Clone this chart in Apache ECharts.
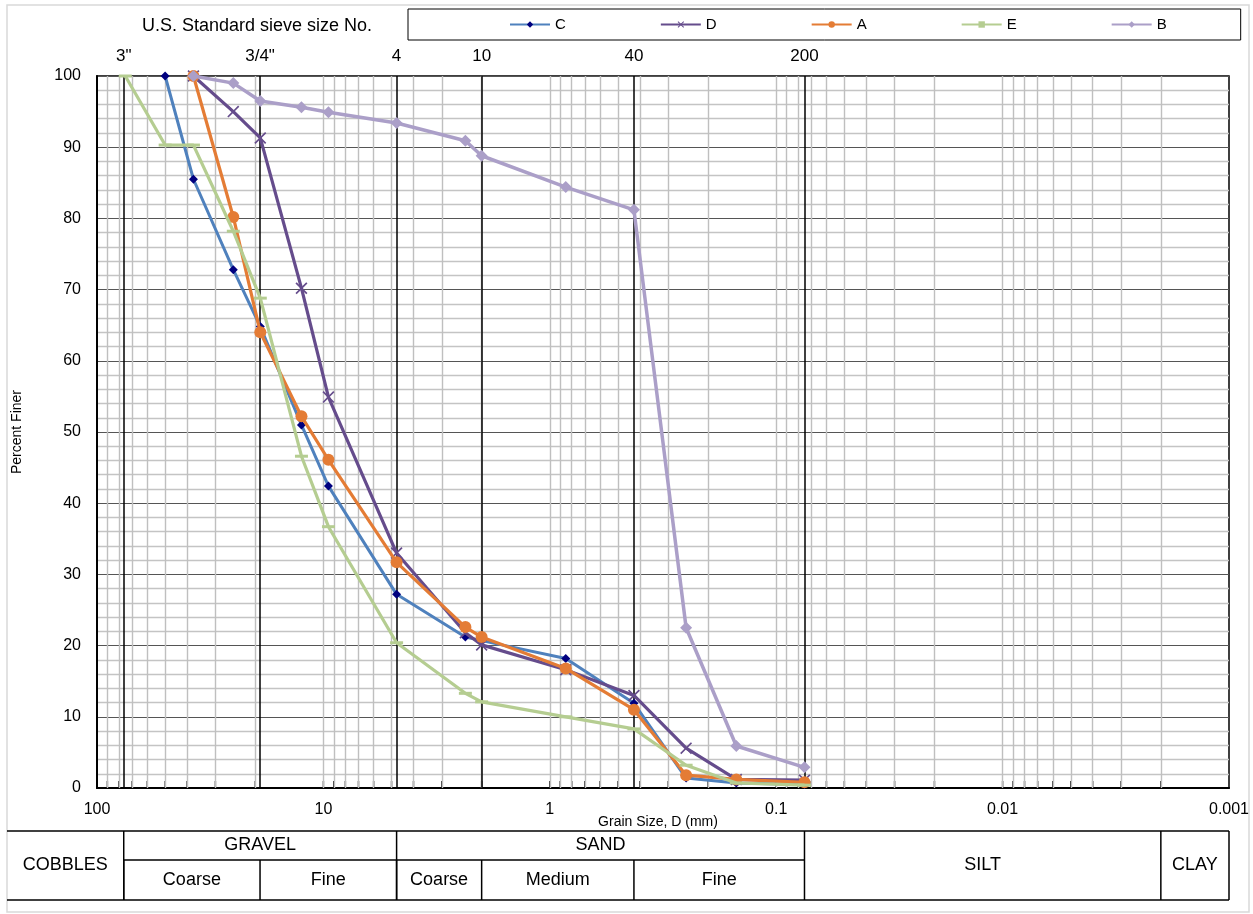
<!DOCTYPE html>
<html><head><meta charset="utf-8">
<script src="https://cdn.jsdelivr.net/npm/echarts@6/dist/echarts.min.js"></script>
<style>html,body{margin:0;padding:0;background:#fff}#c{width:1253px;height:914px}</style>
</head><body><div id="c"></div>
<script>
// ---------- data ----------
const sieveMm = [75, 50, 37.5, 25, 19, 12.5, 9.5, 4.75, 2.36, 2.0, 0.85, 0.425, 0.25, 0.15, 0.075];
const seriesNames = ['C', 'D', 'A', 'E', 'B'];
const pctC = [null, 100, 85.5, 72.8, 64.8, 51.0, 42.4, 27.2, 21.2, 20.7, 18.2, 11.9, 1.4, 0.7, 0.5];
const pctD = [null, null, 100, 95.0, 91.3, 70.2, 54.9, 33.0, 21.8, 20.1, 16.6, 13.0, 5.6, 1.2, 1.1];
const pctA = [null, null, 100, 80.2, 64.0, 52.2, 46.1, 31.7, 22.6, 21.2, 16.8, 11.0, 1.8, 1.2, 0.8];
const pctE = [100, 90.3, 90.3, 78.2, 68.8, 46.6, 36.7, 20.4, 13.3, 12.1, 10.0, 8.3, 3.2, 0.7, 0.4];
const pctB = [null, null, 100, 99.0, 96.5, 95.6, 94.9, 93.4, 90.9, 88.8, 84.4, 81.2, 22.5, 5.9, 2.9];

const sieveLineSizes = [76.2, 19.05, 4.75, 2.0, 0.425, 0.075];
const sieveLineLabels = ['3"', '3/4"', '4', '10', '40', '200'];
const xTickValues = [100, 10, 1, 0.1, 0.01, 0.001];
const xTickLabels = ['100', '10', '1', '0.1', '0.01', '0.001'];

const majorClasses = ['COBBLES', 'GRAVEL', 'SAND', 'SILT', 'CLAY'];
const majorBounds = [[null, 76.2], [76.2, 4.75], [4.75, 0.075], [0.075, 0.002], [0.002, 0.001]];
const subClasses = ['Coarse', 'Fine', 'Coarse', 'Medium', 'Fine'];
const subBounds = [[76.2, 19.05], [19.05, 4.75], [4.75, 2.0], [2.0, 0.425], [0.425, 0.075]];

// ---------- styles ----------
const FONT = '"Liberation Sans", Arial, sans-serif';
const styles = {
  C: { line: '#4f81bd', mark: '#00007f', symbol: 'diamond', size: 9, width: 3 },
  D: { line: '#654c8c', mark: '#654c8c', symbol: 'path://M0,1L1,0L5,4L9,0L10,1L6,5L10,9L9,10L5,6L1,10L0,9L4,5Z', size: 12, width: 3.2 },
  A: { line: '#e47c35', mark: '#e47c35', symbol: 'circle', size: 12, width: 3.2 },
  E: { line: '#b5cd91', mark: '#b5cd91', symbol: 'rect', size: [13, 3], width: 3.2 },
  B: { line: '#ab9fc8', mark: '#ab9fc8', symbol: 'diamond', size: 12, width: 3.5 }
};
const pctBySeries = { C: pctC, D: pctD, A: pctA, E: pctE, B: pctB };

// log grid positions (axis decoration)
const gridVals = [];
for (let n = -3; n <= 1; n++) {
  for (let k = 1; k <= 9; k++) {
    const v = Number((k * Math.pow(10, n)).toPrecision(6));
    if (v > 0.001 && v < 100) gridVals.push(v);
  }
}

const chart = echarts.init(document.getElementById('c'), null, { renderer: 'canvas' });

const dataSeries = seriesNames.map((name, idx) => {
  const st = styles[name];
  const pct = pctBySeries[name];
  return {
    name: name,
    type: 'line',
    z: 5 + idx,
    data: sieveMm.map((s, i) => [s, pct[i]]).filter(p => p[1] !== null),
    symbol: st.symbol,
    symbolSize: st.size,
    showSymbol: true,
    lineStyle: { color: st.line, width: st.width },
    itemStyle: { color: st.mark },
    emphasis: { disabled: true },
    clip: false
  };
});

const option = {
  animation: false,
  backgroundColor: '#fff',
  textStyle: { fontFamily: FONT },
  title: {
    text: 'U.S. Standard sieve size No.',
    left: 142, top: 17, padding: 0,
    textStyle: { fontSize: 18, fontWeight: 'normal', color: '#000', fontFamily: FONT }
  },
  legend: {
    data: seriesNames,
    left: 408, top: 9,
    orient: 'horizontal',
    itemWidth: 40, itemHeight: 8, itemGap: 94,
    padding: [8, 74, 8, 101],
    borderColor: '#000', borderWidth: 1,
    textStyle: { fontSize: 15, color: '#000', fontFamily: '"Liberation Sans Narrow", "Liberation Sans", Arial, sans-serif' }
  },
  grid: {
    left: 97, right: 24, top: 76, bottom: 126,
    show: true, borderColor: '#000', borderWidth: 1.5, backgroundColor: 'transparent'
  },
  xAxis: {
    type: 'log', logBase: 10, min: 0.001, max: 100, inverse: true,
    axisLine: { show: true, onZero: false, lineStyle: { color: '#000', width: 2 } },
    axisTick: { show: false },
    splitLine: { show: false },
    axisLabel: {
      fontSize: 16, color: '#000', margin: 14, fontFamily: FONT,
      formatter: function (v) {
        let best = 0, bd = Infinity;
        xTickValues.forEach((t, i) => { const d = Math.abs(Math.log10(t) - Math.log10(v)); if (d < bd) { bd = d; best = i; } });
        return bd < 1e-6 ? xTickLabels[best] : '';
      }
    },
    name: 'Grain Size, D (mm)', nameLocation: 'middle', nameGap: 27, nameMoveOverlap: false,
    nameTextStyle: { fontSize: 14, color: '#000', fontFamily: FONT, padding: [0, 10, 0, 0] }
  },
  yAxis: {
    type: 'value', min: 0, max: 100, interval: 10,
    axisLine: { show: true, lineStyle: { color: '#000', width: 2 } },
    axisTick: { show: false },
    axisLabel: { fontSize: 16, color: '#000', margin: 16, fontFamily: FONT },
    splitLine: { show: true, lineStyle: { color: '#555', width: 1 } },
    minorTick: { show: false, splitNumber: 5 },
    minorSplitLine: { show: true, lineStyle: { color: '#c4c4c4', width: 1.3 } },
    name: 'Percent Finer', nameLocation: 'middle', nameGap: 73, nameMoveOverlap: false,
    nameTextStyle: { fontSize: 14, color: '#000', fontFamily: FONT }
  },
  series: [
    {
      name: 'ticks', type: 'scatter', z: 3, silent: true,
      data: gridVals.map(v => [v, 0]),
      symbol: 'rect', symbolSize: [1.5, 7], symbolOffset: [0, -3.5],
      itemStyle: { color: '#000' },
      markLine: {
        silent: true, symbol: ['none', 'none'], animation: false, precision: 10,
        label: { show: false },
        lineStyle: { color: '#bfbfbf', width: 1.4, type: 'solid' },
        emphasis: { disabled: true },
        data: gridVals.map(v => ({ xAxis: v }))
      }
    },
    {
      name: 'sieves', type: 'scatter', z: 4, silent: true,
      data: sieveLineSizes.map(v => [v, 0]),
      symbol: 'none', symbolSize: 0,
      markLine: {
        silent: true, symbol: ['none', 'none'], animation: false, precision: 10,
        lineStyle: { color: '#000', width: 1.5, type: 'solid' },
        emphasis: { disabled: true },
        label: {
          show: true, position: 'end', distance: 11,
          formatter: p => p.name,
          fontSize: 17, color: '#000', fontFamily: FONT
        },
        data: sieveLineSizes.map((v, i) => ({ xAxis: v, name: sieveLineLabels[i] }))
      }
    }
  ].concat(dataSeries)
};

chart.setOption(option);

// ---------- classification table below the axis ----------
function px(v) { return chart.convertToPixel({ xAxisIndex: 0 }, v); }
const tTop = 831, tMid = 860, tBot = 900, tLeft = 7;
const g = [];
const L = (x1, y1, x2, y2) => g.push({ type: 'line', silent: true, shape: { x1, y1, x2, y2 }, style: { stroke: '#000', lineWidth: 1.5 } });
const T = (text, x, y) => g.push({ type: 'text', silent: true, style: { text, x, y, align: 'center', verticalAlign: 'middle', font: '18px ' + FONT, fill: '#000' } });

g.push({ type: 'rect', silent: true, shape: { x: 7, y: 5, width: 1242, height: 907 }, style: { fill: 'none', stroke: '#d9d9d9', lineWidth: 1.5 } });

const xRight = px(0.001);
L(tLeft, tTop, xRight, tTop);
L(tLeft, tBot, xRight, tBot);
L(px(76.2), tMid, px(0.075), tMid);
L(xRight, tTop, xRight, tBot);
majorBounds.forEach((b, i) => {
  const x1 = b[0] === null ? tLeft : px(b[0]);
  const x2 = px(b[1]);
  if (b[0] !== null) L(x1, tTop, x1, tBot);
  const hasSub = (majorClasses[i] === 'GRAVEL' || majorClasses[i] === 'SAND');
  if (hasSub) {
    T(majorClasses[i], (x1 + x2) / 2, (tTop + tMid) / 2);
  } else {
    T(majorClasses[i], (x1 + x2) / 2, (tTop + tBot) / 2);
  }
});
subBounds.forEach((b, i) => {
  const x1 = px(b[0]), x2 = px(b[1]);
  L(x1, tMid, x1, tBot);
  T(subClasses[i], (x1 + x2) / 2, (tMid + tBot) / 2);
});
chart.setOption({ graphic: g });
</script>
</body></html>
